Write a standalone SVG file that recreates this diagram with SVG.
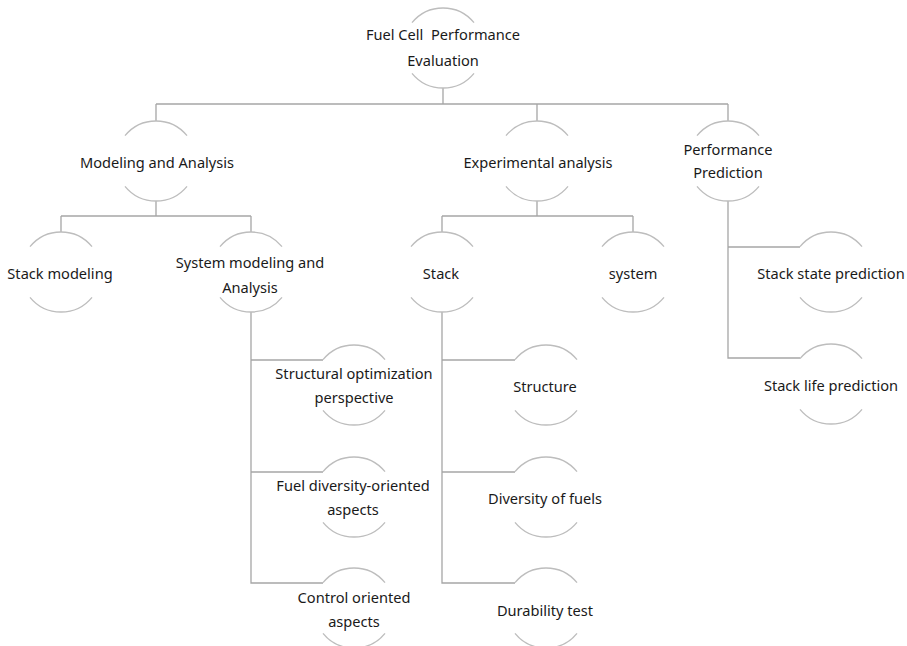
<svg xmlns="http://www.w3.org/2000/svg" xmlns:xlink="http://www.w3.org/1999/xlink" width="907" height="646" viewBox="0 0 907 646">
<style>
  .arc { fill: none; stroke: #bdbdbd; stroke-width: 1.3; }
  .conn { fill: none; stroke: #a6a6a6; stroke-width: 1.3; }
  text { font-family: "Noto Sans", "Open Sans", sans-serif; font-size: 14.6px; fill: #1a1a1a; text-anchor: middle; dominant-baseline: central; white-space: pre; }
</style>
<defs>
  <g id="ring">
    <path class="arc" d="M -31 -25.3 A 40 40 0 0 1 31 -25.3"/>
    <path class="arc" d="M -31 25.3 A 40 40 0 0 0 31 25.3"/>
  </g>
</defs>
<rect width="907" height="646" fill="#ffffff"/>
<g id="connectors">
  <path class="conn" d="M443 88 V104 M156 104 H728 M156 104 V121 M537 104 V121 M728 104 V121"/>
  <path class="conn" d="M156 201 V216 M61 216 H251 M61 216 V232 M251 216 V232"/>
  <path class="conn" d="M537 201 V216 M442 216 H633 M442 216 V232 M633 216 V232"/>
  <path class="conn" d="M728 201 V358 H800 M728 247 H800"/>
  <path class="conn" d="M251 312 V583 H323 M251 360 H323 M251 472 H323"/>
  <path class="conn" d="M442 312 V583 H515 M442 360 H515 M442 472 H515"/>
</g>
<g id="node-root">
  <use xlink:href="#ring" x="443" y="48"/>
  <text x="443" y="34">Fuel Cell  Performance</text>
  <text x="443" y="60">Evaluation</text>
</g>
<g id="node-modeling">
  <use xlink:href="#ring" x="156" y="161"/>
  <text x="157" y="162">Modeling and Analysis</text>
</g>
<g id="node-experimental">
  <use xlink:href="#ring" x="537" y="161"/>
  <text x="538" y="162">Experimental analysis</text>
</g>
<g id="node-prediction">
  <use xlink:href="#ring" x="728" y="161"/>
  <text x="728" y="149">Performance</text>
  <text x="728" y="172">Prediction</text>
</g>
<g id="node-stack-modeling">
  <use xlink:href="#ring" x="61" y="272"/>
  <text x="60" y="273">Stack modeling</text>
</g>
<g id="node-system-modeling">
  <use xlink:href="#ring" x="251" y="272"/>
  <text x="250" y="262">System modeling and</text>
  <text x="250" y="287">Analysis</text>
</g>
<g id="node-stack">
  <use xlink:href="#ring" x="442" y="272"/>
  <text x="441" y="273">Stack</text>
</g>
<g id="node-system">
  <use xlink:href="#ring" x="633" y="272"/>
  <text x="633" y="273">system</text>
</g>
<g id="node-stack-state">
  <use xlink:href="#ring" x="831" y="272"/>
  <text x="831" y="273">Stack state prediction</text>
</g>
<g id="node-stack-life">
  <use xlink:href="#ring" x="831" y="384"/>
  <text x="831" y="385">Stack life prediction</text>
</g>
<g id="node-structural">
  <use xlink:href="#ring" x="354" y="385"/>
  <text x="354" y="373">Structural optimization</text>
  <text x="354" y="397">perspective</text>
</g>
<g id="node-fuel-diversity">
  <use xlink:href="#ring" x="354" y="497"/>
  <text x="353" y="485">Fuel diversity-oriented</text>
  <text x="353" y="509">aspects</text>
</g>
<g id="node-control">
  <use xlink:href="#ring" x="354" y="608"/>
  <text x="354" y="597">Control oriented</text>
  <text x="354" y="621">aspects</text>
</g>
<g id="node-structure">
  <use xlink:href="#ring" x="546" y="385"/>
  <text x="545" y="386">Structure</text>
</g>
<g id="node-diversity">
  <use xlink:href="#ring" x="546" y="497"/>
  <text x="545" y="498">Diversity of fuels</text>
</g>
<g id="node-durability">
  <use xlink:href="#ring" x="546" y="608"/>
  <text x="545" y="610">Durability test</text>
</g>
</svg>
